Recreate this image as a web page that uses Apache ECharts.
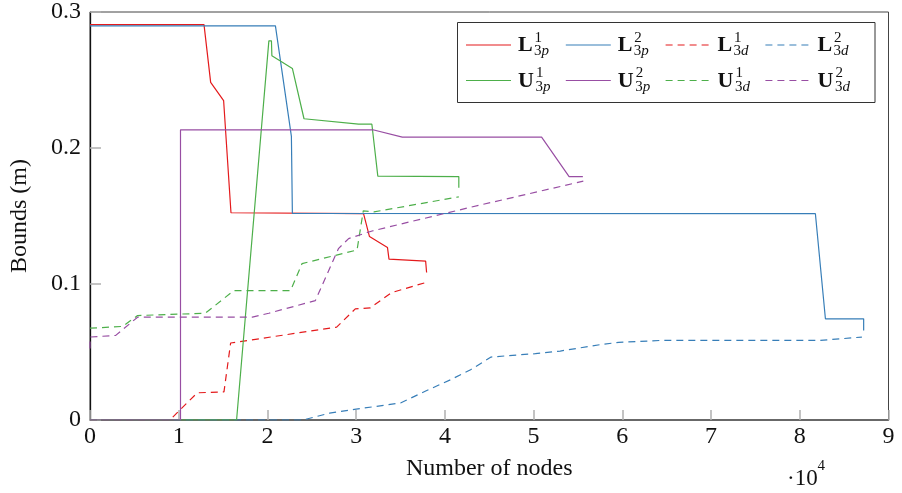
<!DOCTYPE html>
<html>
<head>
<meta charset="utf-8">
<script src="https://cdn.jsdelivr.net/npm/echarts@6/dist/echarts.min.js"></script>
<style>
  html, body { margin: 0; padding: 0; background: #fff; }
  #chart { width: 902px; height: 493px; }
</style>
</head>
<body>
<div id="chart"></div>
<script>
// Number of nodes (x) and bound values in metres (y) for each curve
const L3p1_x = [0, 12850, 13600, 15060, 15890, 30830, 31500, 33530, 33700, 37830, 37940];
const L3p1_y = [0.2907, 0.2907, 0.2483, 0.2349, 0.1524, 0.1517, 0.1349, 0.1268, 0.1183, 0.1168, 0.1085];

const L3p2_x = [0, 20900, 22700, 22810, 81760, 82890, 87200, 87200];
const L3p2_y = [0.2898, 0.2898, 0.2085, 0.1520, 0.1517, 0.0744, 0.0744, 0.0659];

const L3d1_x = [0, 9000, 10200, 12100, 15100, 15850, 27800, 29900, 31600, 34000, 37900];
const L3d1_y = [0, 0, 0.0078, 0.0200, 0.0207, 0.0566, 0.0683, 0.0817, 0.0825, 0.0937, 0.1012];

const L3d2_x = [0, 24000, 27000, 30000, 35000, 36000, 37900, 40700, 42900, 44500, 45200, 50200, 53000, 57700, 59600, 64300, 82300, 87000];
const L3d2_y = [0, 0, 0.0050, 0.0080, 0.0125, 0.0156, 0.0215, 0.0298, 0.0370, 0.0434, 0.0463, 0.0488, 0.0507, 0.0556, 0.0571, 0.0585, 0.0585, 0.0610];

const U3p1_x = [0, 16520, 20160, 20450, 20500, 22810, 24120, 30270, 31770, 32440, 41570, 41570];
const U3p1_y = [0, 0, 0.2788, 0.2788, 0.2678, 0.2585, 0.2215, 0.2175, 0.2175, 0.1793, 0.1790, 0.1707];

const U3p2_x = [0, 10200, 10200, 31880, 35200, 50900, 54000, 55550];
const U3p2_y = [0, 0, 0.2134, 0.2134, 0.2080, 0.2080, 0.1790, 0.1790];

const U3d1_x = [0, 3670, 5360, 13000, 16200, 22600, 23900, 30100, 30800, 32000, 41570];
const U3d1_y = [0.0675, 0.0688, 0.0768, 0.0785, 0.0951, 0.0951, 0.1150, 0.1250, 0.1537, 0.1530, 0.1641];

const U3d2_x = [0, 0, 2900, 5360, 18300, 20150, 25400, 28000, 29150, 31800, 43000, 55600];
const U3d2_y = [0.0525, 0.0610, 0.0622, 0.0756, 0.0756, 0.0785, 0.0878, 0.1260, 0.1334, 0.1390, 0.1566, 0.1756];

// Axis ticks
const xTicks = [0, 1, 2, 3, 4, 5, 6, 7, 8, 9];        // in units of 10^4 nodes
const yTicks = ['0', '0.1', '0.2', '0.3'];

const RED = '#e41a1c', BLUE = '#377eb8', GREEN = '#4daf4a', PURPLE = '#984ea3';
const DASH = [7, 5];
const FONT = 'Liberation Serif';

// Curve definitions: letter, superscript, subscript, colour, dashed?
const curves = [
  { letter: 'L', sup: '1', sub: ['3', 'p'], x: L3p1_x, y: L3p1_y, color: RED,    dashed: false },
  { letter: 'L', sup: '2', sub: ['3', 'p'], x: L3p2_x, y: L3p2_y, color: BLUE,   dashed: false },
  { letter: 'L', sup: '1', sub: ['3', 'd'], x: L3d1_x, y: L3d1_y, color: RED,    dashed: true },
  { letter: 'L', sup: '2', sub: ['3', 'd'], x: L3d2_x, y: L3d2_y, color: BLUE,   dashed: true },
  { letter: 'U', sup: '1', sub: ['3', 'p'], x: U3p1_x, y: U3p1_y, color: GREEN,  dashed: false },
  { letter: 'U', sup: '2', sub: ['3', 'p'], x: U3p2_x, y: U3p2_y, color: PURPLE, dashed: false },
  { letter: 'U', sup: '1', sub: ['3', 'd'], x: U3d1_x, y: U3d1_y, color: GREEN,  dashed: true },
  { letter: 'U', sup: '2', sub: ['3', 'd'], x: U3d2_x, y: U3d2_y, color: PURPLE, dashed: true }
];

const series = curves.map(c => ({
  type: 'line',
  name: c.letter + c.sup + c.sub.join(''),
  data: c.x.map((xv, i) => [xv, c.y[i]]),
  showSymbol: false,
  symbol: 'none',
  clip: true,
  lineStyle: { color: c.color, width: 1.2, type: c.dashed ? DASH : 'solid' },
  itemStyle: { color: c.color },
  emphasis: { disabled: true }
}));

// Legend drawn as a boxed 4 x 2 table of line samples and math-style labels
const legendEls = [{
  type: 'rect',
  shape: { x: 457.5, y: 22.5, width: 417.5, height: 80 },
  style: { fill: '#fff', stroke: '#333', lineWidth: 1 },
  z: 100
}];
curves.forEach((c, i) => {
  const col = i % 4, row = Math.floor(i / 4);
  const tx = 518 + col * 99.8;
  const ly = 45 + row * 35.5;
  legendEls.push({
    type: 'line',
    shape: { x1: tx - 52, y1: ly, x2: tx - 7, y2: ly },
    style: { stroke: c.color, lineWidth: 1.2, lineDash: c.dashed ? DASH : null },
    z: 101
  });
  legendEls.push({
    type: 'text',
    x: tx, y: ly + 0.5,
    style: { text: c.letter, font: 'bold 22px "' + FONT + '"', fill: '#111', verticalAlign: 'middle', align: 'left' },
    z: 101
  });
  const sx = tx + (c.letter === 'U' ? 18 : 16.5);
  legendEls.push({
    type: 'text',
    x: sx, y: ly - 7,
    style: { text: c.sup, font: '15px "' + FONT + '"', fill: '#111', verticalAlign: 'middle', align: 'left' },
    z: 101
  });
  legendEls.push({
    type: 'text',
    x: sx - 0.5, y: ly + 6.5,
    style: {
      text: '{n|' + c.sub[0] + '}{i|' + c.sub[1] + '}',
      fill: '#111', verticalAlign: 'middle', align: 'left',
      rich: {
        n: { fontFamily: FONT, fontSize: 15, fill: '#111' },
        i: { fontFamily: FONT, fontSize: 15, fontStyle: 'italic', fill: '#111' }
      }
    },
    z: 101
  });
});

// Scale factor note under the x axis
legendEls.push({
  type: 'text', x: 787, y: 479,
  style: { text: '\u00b710', font: '23px "' + FONT + '"', fill: '#111', verticalAlign: 'middle', align: 'left' },
  z: 101
});
legendEls.push({
  type: 'text', x: 817.5, y: 466,
  style: { text: '4', font: '15px "' + FONT + '"', fill: '#111', verticalAlign: 'middle', align: 'left' },
  z: 101
});

const chart = echarts.init(document.getElementById('chart'), null, { renderer: 'canvas' });
chart.setOption({
  animation: false,
  backgroundColor: '#fff',
  grid: {
    left: 87.3, right: 13.5, top: 10, bottom: 73,
    show: true, borderColor: '#444', borderWidth: 1, backgroundColor: 'transparent'
  },
  xAxis: {
    type: 'value',
    min: 0, max: 90000, interval: 10000,
    name: 'Number of nodes',
    nameLocation: 'middle',
    nameGap: 37,
    nameTextStyle: { fontFamily: FONT, fontSize: 24, color: '#111' },
    axisLine: { show: true, lineStyle: { color: '#555', width: 1.5 } },
    axisTick: { show: true, inside: true, length: 10, lineStyle: { color: '#b0b0b0', width: 1.5 } },
    axisLabel: {
      margin: 5, fontFamily: FONT, fontSize: 24, color: '#111',
      formatter: v => String(xTicks[Math.round(v / 10000)])
    },
    splitLine: { show: false }
  },
  yAxis: {
    type: 'value',
    min: 0, max: 0.3, interval: 0.1,
    name: 'Bounds (m)',
    nameLocation: 'middle',
    nameGap: 58,
    nameRotate: 90,
    nameTextStyle: { fontFamily: FONT, fontSize: 24, color: '#111' },
    axisLine: { show: true, lineStyle: { color: '#111', width: 1.3 } },
    axisTick: { show: true, inside: true, length: 11, lineStyle: { color: '#b0b0b0', width: 1.5 } },
    axisLabel: {
      margin: 9, fontFamily: FONT, fontSize: 24, color: '#111',
      formatter: v => yTicks[Math.round(v * 10)]
    },
    splitLine: { show: false }
  },
  legend: { show: false },
  tooltip: { show: false },
  series: series,
  graphic: { elements: legendEls }
});
</script>
</body>
</html>
